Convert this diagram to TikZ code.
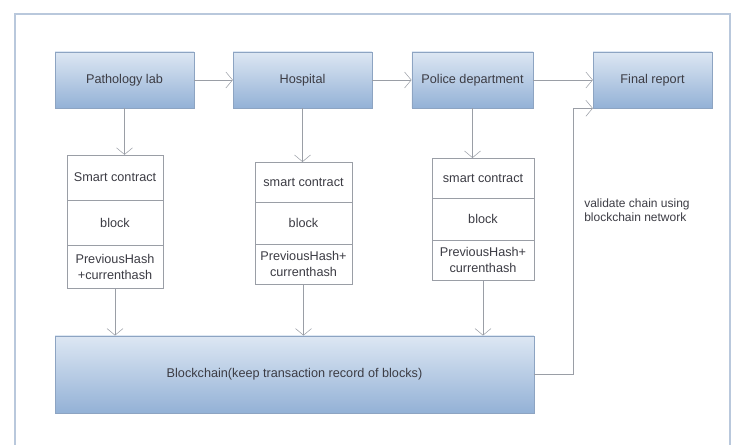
\documentclass[tikz,border=0pt]{standalone}
\usepackage{fontspec}
\setmainfont{Liberation Sans}
\usepackage{xcolor}
\usetikzlibrary{arrows.meta,positioning}

\definecolor{boxtop}{HTML}{DDE7F3}
\definecolor{boxbot}{HTML}{93B1D6}
\definecolor{boxline}{HTML}{8DA4C2}
\definecolor{wireline}{HTML}{9A9EA6}
\definecolor{framecol}{HTML}{B9C8DC}
\definecolor{txtcol}{HTML}{3C3C44}

\tikzset{
	stagebox/.style={draw=boxline, top color=boxtop, bottom color=boxbot,
		minimum height=42pt, text=txtcol, font=\fontsize{9.5}{11.5}\selectfont},
	cellbox/.style={draw=wireline, fill=white, inner sep=1pt, outer sep=0pt, text=txtcol,
		align=center, font=\fontsize{9.5}{11.5}\selectfont},
	flow/.style={draw=wireline, -{Straight Barb[length=5pt,width=12pt]}}
}

\begin{document}
\begin{tikzpicture}[x=0.75pt, y=-0.75pt]
	\useasboundingbox (0,0) rectangle (734,445);
	% Outer frame
	\draw[framecol, thick] (15,447) -- (15,14) -- (730,14) -- (730,447);
	
	% Stages along the top
	\node[stagebox, minimum width=104pt] (lab) at (124.5,80) {Pathology lab};
	\node[stagebox, minimum width=104pt] (hosp) at (302.5,80) {Hospital};
	\node[stagebox, minimum width=91pt] (police) at (472.5,80) {Police department};
	\node[stagebox, minimum width=89pt] (final) at (652.5,80) {Final report};
	
	% Contract stacks
	\node[cellbox, minimum width=72pt, minimum height=34pt] (sc1) at (115,177.5) {Smart contract};
	\node[cellbox, minimum width=72pt, minimum height=34pt, below=0pt of sc1] (blk1) {block};
	\node[cellbox, minimum width=72pt, minimum height=32pt, below=0pt of blk1] (hash1) {PreviousHash\\+currenthash};
	
	\node[cellbox, minimum width=73pt, minimum height=30pt] (sc2) at (303.5,182) {smart contract};
	\node[cellbox, minimum width=73pt, minimum height=31.5pt, below=0pt of sc2] (blk2) {block};
	\node[cellbox, minimum width=73pt, minimum height=30pt, below=0pt of blk2] (hash2) {PreviousHash+\\currenthash};
	
	\node[cellbox, minimum width=76.5pt, minimum height=30pt] (sc3) at (483,178) {smart contract};
	\node[cellbox, minimum width=76.5pt, minimum height=31.5pt, below=0pt of sc3] (blk3) {block};
	\node[cellbox, minimum width=76.5pt, minimum height=30pt, below=0pt of blk3] (hash3) {PreviousHash+\\currenthash};
	
	% Blockchain record
	\node[stagebox, minimum width=359pt, minimum height=58pt] (chain) at (294.5,374.5) {Blockchain(keep transaction record of blocks)};
	
	% Note on the return path
	\node[anchor=north west, align=left, inner sep=0pt, text=txtcol,
		font=\fontsize{9}{10}\selectfont] (note) at (584,199) {validate chain using\\blockchain network};
	
	% Connectors
	\draw[flow] (lab) -- (hosp);
	\draw[flow] (hosp) -- (police);
	\draw[flow] (police) -- (final);
	\draw[flow] (lab.south) -- (lab.south |- sc1.north);
	\draw[flow] (hosp.south) -- (hosp.south |- sc2.north);
	\draw[flow] (police.south) -- (police.south |- sc3.north);
	\draw[flow] (hash1.south) -- (hash1.south |- chain.north);
	\draw[flow] (hash2.south) -- (hash2.south |- chain.north);
	\draw[flow] (hash3.south) -- (hash3.south |- chain.north);
	\coordinate (turn) at (573,374.5);
	\draw[flow] (chain.east) -- (turn) |- (final.south west);
\end{tikzpicture}
\end{document}
